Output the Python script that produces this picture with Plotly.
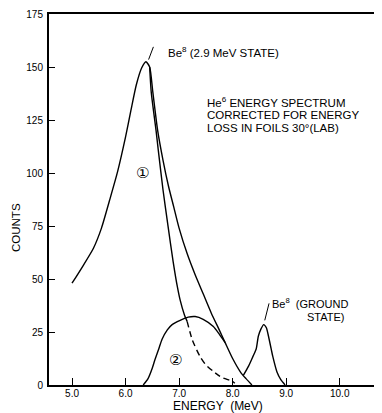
import plotly.graph_objects as go

# ---- data ----
E_total = [5.0, 5.2, 5.4, 5.55, 5.7, 5.85, 6.0, 6.1, 6.2, 6.3, 6.38, 6.45, 6.51, 6.6, 6.7, 6.8,
           6.9, 7.0, 7.15, 7.3, 7.45, 7.6, 7.75, 7.86, 8.0, 8.15, 8.25, 8.36]
C_total = [48, 56, 64.5, 74, 87, 100.5, 117, 129.5, 141.5, 149.5, 152.5, 150, 138, 120, 106, 94,
           84, 74, 62, 52, 43, 34, 26, 20, 12.5, 6, 3, 0]

E_comp1 = [6.45, 6.48, 6.57, 6.61, 6.70, 6.79, 6.89, 6.97, 7.02, 7.1, 7.15]
C_comp1 = [150, 138, 120, 111, 92, 75.5, 58, 46, 40, 33, 30]
E_comp1_dash = [7.15, 7.25, 7.39, 7.5, 7.64, 7.8, 8.0, 8.04]
C_comp1_dash = [30, 21, 13.5, 9.5, 6.4, 3.5, 1.7, 0.8]

E_comp2 = [6.33, 6.42, 6.5, 6.55, 6.62, 6.68, 6.78, 6.87, 7.02, 7.17, 7.3, 7.45, 7.64, 7.75, 7.86]
C_comp2 = [0, 3, 8, 12, 17, 21.5, 26, 28.5, 30.5, 32, 32.3, 31, 27.6, 24, 20]

E_ground = [8.2, 8.3, 8.38, 8.44, 8.48, 8.53, 8.58, 8.63, 8.67, 8.72, 8.75, 8.83, 8.9, 8.98]
C_ground = [4.5, 9, 13.5, 17, 23, 26.5, 28.5, 27, 23, 17, 13.5, 6, 2.5, 0]

x_ticks = [5, 6, 7, 8, 9, 10]
x_tick_labels = ["5.0", "6.0", "7.0", "8.0", "9.0", "10.0"]
y_ticks = [0, 25, 50, 75, 100, 125, 150, 175]
y_tick_labels = ["0", "25", "50", "75", "100", "125", "150", "175"]

FONT = "Liberation Sans, Arial, sans-serif"
line_style = dict(color="black", width=1.4, shape="spline", smoothing=0.6)

# page body has an 8px margin: size the figure so it fills the window from there
PAGE = 8
W, H = 382 - PAGE, 413 - PAGE
ML, MR, MT, MB = 49 - PAGE, 0, 14 - PAGE, 28
pw, ph = W - ML - MR, H - MT - MB

fig = go.Figure()
fig.add_trace(go.Scatter(x=E_total, y=C_total, mode="lines", line=line_style, hoverinfo="skip"))
fig.add_trace(go.Scatter(x=E_comp1, y=C_comp1, mode="lines", line=line_style, hoverinfo="skip"))
fig.add_trace(go.Scatter(x=E_comp1_dash, y=C_comp1_dash, mode="lines",
                         line=dict(line_style, dash="6px,4px"), hoverinfo="skip"))
fig.add_trace(go.Scatter(x=E_comp2, y=C_comp2, mode="lines", line=line_style, hoverinfo="skip"))
fig.add_trace(go.Scatter(x=E_ground, y=C_ground, mode="lines", line=line_style, hoverinfo="skip"))

txt = dict(family=FONT, color="black")
ann = [
    dict(x=6.75, y=157, text="Be<sup>8</sup> (2.9 MeV STATE)", size=11.5),
    dict(x=7.48, y=133.3, text="He<sup>6</sup> ENERGY SPECTRUM", size=11.5),
    dict(x=7.48, y=127.4, text="CORRECTED FOR ENERGY", size=11.5),
    dict(x=7.48, y=121.3, text="LOSS IN FOILS 30°(LAB)", size=11.5),
    dict(x=8.69, y=38.5, text="Be<sup>8</sup>  (GROUND", size=11),
    dict(x=9.35, y=32, text="STATE)", size=11),
]
annotations = []
for a in ann:
    annotations.append(dict(x=a["x"], y=a["y"], xref="x", yref="y", text=a["text"],
                            showarrow=False, xanchor="left", yanchor="middle",
                            font=dict(txt, size=a["size"])))
# circled component numbers
annotations.append(dict(x=6.31, y=100, xref="x", yref="y", text="①", showarrow=False,
                        xanchor="center", yanchor="middle",
                        font=dict(family="DejaVu Sans", size=15, color="black")))
annotations.append(dict(x=6.93, y=12, xref="x", yref="y", text="②", showarrow=False,
                        xanchor="center", yanchor="middle",
                        font=dict(family="DejaVu Sans", size=15, color="black")))


def px_to_paper(xp, yp):
    return (xp - PAGE - ML) / pw, 1 - (yp - PAGE - MT) / ph


cx, cy = px_to_paper(16, 228)
annotations.append(dict(x=cx, y=cy, xref="paper", yref="paper", text="COUNTS", showarrow=False,
                        textangle=-90, xanchor="center", yanchor="middle",
                        font=dict(txt, size=11.5)))
ex, ey = px_to_paper(218, 406)
annotations.append(dict(x=ex, y=ey, xref="paper", yref="paper", text="ENERGY  (MeV)",
                        showarrow=False, xanchor="center", yanchor="middle",
                        font=dict(txt, size=12)))

# label leaders
shapes = [
    dict(type="line", xref="x", yref="y", x0=6.43, y0=153.5, x1=6.52, y1=159.5,
         line=dict(color="black", width=1)),
    dict(type="line", xref="x", yref="y", x0=8.6, y0=30.5, x1=8.68, y1=38.5,
         line=dict(color="black", width=1)),
]

fig.update_layout(
    width=W, height=H,
    margin=dict(l=ML, r=MR, t=MT, b=MB),
    paper_bgcolor="white", plot_bgcolor="white",
    showlegend=False,
    annotations=annotations,
    shapes=shapes,
    font=dict(family=FONT, color="black"),
)
fig.update_xaxes(range=[4.57, 10.79], tickvals=x_ticks, ticktext=x_tick_labels,
                 ticks="inside", ticklen=7, tickwidth=1, tickcolor="black",
                 showline=True, linewidth=2, linecolor="black", mirror=True,
                 showgrid=False, zeroline=False, ticklabelstandoff=-2,
                 tickfont=dict(family=FONT, size=10, color="black"))
fig.update_yaxes(range=[0, 175], tickvals=y_ticks, ticktext=y_tick_labels,
                 ticks="inside", ticklen=6, tickwidth=1, tickcolor="black",
                 showline=True, linewidth=2, linecolor="black",
                 showgrid=False, zeroline=False, ticklabelstandoff=2,
                 tickfont=dict(family=FONT, size=10, color="black"))

fig.write_html("out.html")
